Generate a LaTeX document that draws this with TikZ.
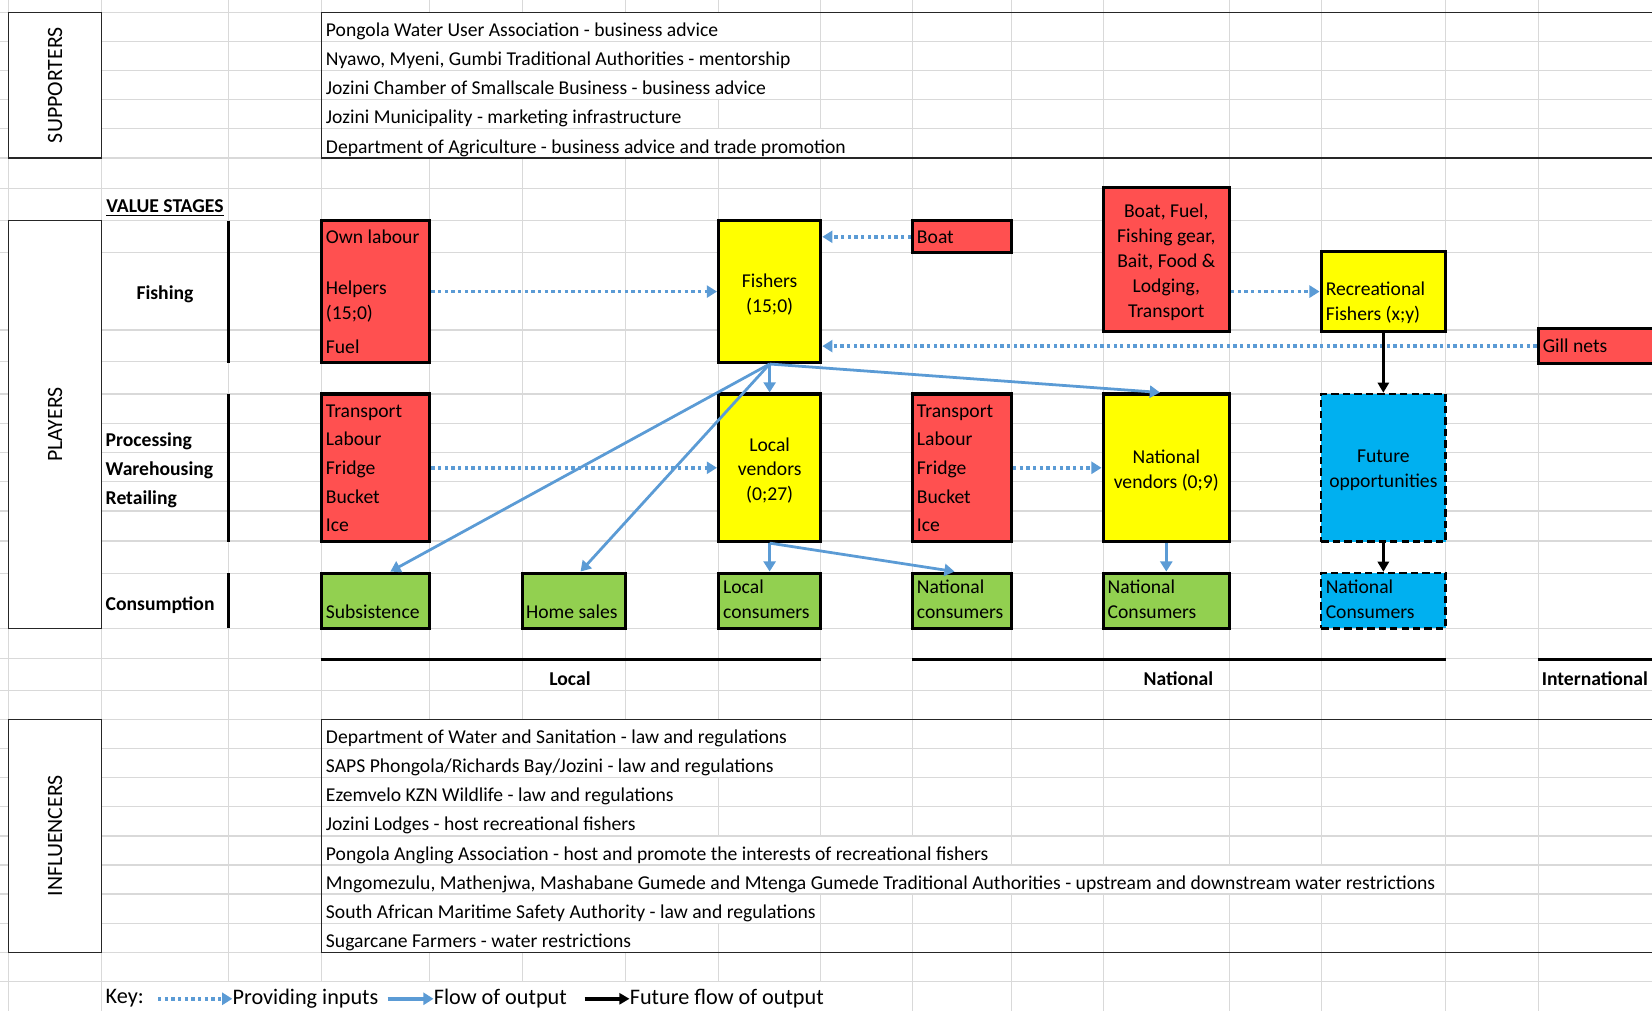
\documentclass[tikz,border=0pt]{standalone}
\usepackage{fontspec}
\setmainfont{Carlito}
\usetikzlibrary{positioning,fit,arrows.meta}

\definecolor{inputred}{HTML}{FF5050}
\definecolor{actoryellow}{HTML}{FFFF00}
\definecolor{consgreen}{HTML}{92D050}
\definecolor{futureblue}{HTML}{00B0F0}
\definecolor{flowblue}{HTML}{5B9BD5}
\definecolor{cellgray}{HTML}{D9D9D9}

\newcommand{\cellfont}{\fontsize{10.6}{13.4}\selectfont}

\tikzset{
  gridline/.style={cellgray, line width=0.6pt},
  rowtext/.style={anchor=west, fill=white, inner xsep=2.3pt, inner ysep=0pt,
    minimum height=0.54cm, text height=10.6pt, text depth=0.2pt},
  celltext/.style={anchor=west, inner sep=0pt, align=left},
  listtext/.style={celltext, font=\fontsize{10.6}{15.5}\selectfont},
  boxtext/.style={align=center, yshift=-0.05cm},
  headbox/.style={draw=black!85, line width=0.7pt, inner sep=0pt},
  headtext/.style={rotate=90, inner sep=0pt, font=\fontsize{11.8}{14}\selectfont},
  stagelabel/.style={anchor=west, inner sep=0pt, font=\cellfont\bfseries},
  stagebox/.style={draw, line width=1.7pt, inner sep=0pt},
  futurebox/.style={draw, line width=1.4pt, dash pattern=on 4pt off 2.2pt,
    fill=futureblue, inner sep=0pt},
  stagebar/.style={line width=1.8pt},
  inarrow/.style={flowblue, line width=1.9pt, dash pattern=on 1.8pt off 1.8pt,
    -{Triangle[length=5.5pt,width=6.5pt]}},
  outarrow/.style={flowblue, line width=1.5pt, -{Triangle[length=5.5pt,width=6.5pt]}},
  futarrow/.style={line width=1.4pt, -{Triangle[length=5.5pt,width=6pt]}},
  keytext/.style={inner sep=0pt, font=\fontsize{12}{14}\selectfont},
}

\begin{document}
\begin{tikzpicture}[x=0.02cm, y=-0.02cm, font=\cellfont]
\useasboundingbox (0,0) rectangle (1568,960);
\clip (0,0) rectangle (1568,960);

% sheet grid, columns first
\foreach \gx in {7.9,96.5,217,305,408,496,594,682,779,866,960,1047,1167,1254,1372,1460}
  \draw[gridline] (\gx,0) -- (\gx,960);

% supporter and influencer rows (text hides the grid it runs over)
\foreach \txt [count=\i] in {Pongola Water User Association - business advice,
    {Nyawo, Myeni, Gumbi Traditional Authorities - mentorship},
    Jozini Chamber of Smallscale Business - business advice,
    Jozini Municipality - marketing infrastructure,
    Department of Agriculture - business advice and trade promotion}
  \node[rowtext] (supp-\i) at (305,{11.7+27.66*(\i-0.5)}) {\txt};
\foreach \txt [count=\i] in {Department of Water and Sanitation - law and regulations,
    SAPS Phongola/Richards Bay/Jozini - law and regulations,
    Ezemvelo KZN Wildlife - law and regulations,
    Jozini Lodges - host recreational fishers,
    Pongola Angling Association - host and promote the interests of recreational fishers,
    {Mngomezulu, Mathenjwa, Mashabane Gumede and Mtenga Gumede Traditional Authorities - upstream and downstream water restrictions},
    South African Maritime Safety Authority - law and regulations,
    Sugarcane Farmers - water restrictions}
  \node[rowtext] (infl-\i) at (305,{682.7+27.65*(\i-0.5)}) {\txt};
\fill[white] (97.5,932.4) rectangle (865.4,960);

% sheet grid, rows
\foreach \gy in {11.7,39.6,67,94.3,122,150,178.7,209.5,239.8,313.2,343.3,374,401.8,429.7,
    457.2,485,513.5,544,596.3,625,655,682.7,710.3,737.8,765.6,793.5,821,848.5,876.3,903.9,931.7}
  \draw[gridline] (0,\gy) -- (1568,\gy);

% side headings
\node[headbox, fill=white, fit={(7.9,11.7) (96.5,150)}] (supporters) {};
\node[headtext] (supporters-t) at (supporters) {SUPPORTERS};
\node[headbox, fill=white, fit={(7.9,209.5) (96.5,596.3)}] (players) {};
\node[headtext] (players-t) at (players) {PLAYERS};
\node[headbox, fill=white, fit={(7.9,682.7) (96.5,903.9)}] (influencers) {};
\node[headtext] (influencers-t) at (influencers) {INFLUENCERS};
\node[headbox, fit={(305,11.7) (1600,150)}] (supp-list) {};
\node[headbox, fit={(305,682.7) (1600,903.9)}] (infl-list) {};

% value stages
\node[stagelabel] (value-stages) at (100.6,197.8) {\underline{VALUE STAGES}};
\node[stagelabel, anchor=center] (fishing) at (156.6,279.5) {Fishing};
\node[stagelabel] (processing) at (100,418.5) {Processing};
\node[stagelabel] (warehousing) at (100,446) {Warehousing};
\node[stagelabel] (retailing) at (100,474) {Retailing};
\node[stagelabel] (consumption) at (100,574.5) {Consumption};
\draw[stagebar] (217,209.5) -- (217,344.2);
\draw[stagebar] (217,374) -- (217,514);
\draw[stagebar] (217,544) -- (217,596.3);

% markets
\draw[stagebar] (305,626) -- (779,626);
\draw[stagebar] (866,626) -- (1372,626);
\draw[stagebar] (1460,626) -- (1600,626);
\node[stagelabel, anchor=center] (local) at (541,644) {Local};
\node[stagelabel, anchor=center] (national) at (1118.5,644) {National};
\node[stagelabel] (international) at (1463,644) {International};

% fishing
\node[stagebox, fill=inputred, fit={(305,209.5) (408,344)}] (ownlab) {};
\node[celltext] (ownlab-a) at (309,225) {Own labour};
\node[celltext] (ownlab-b) at (309,286.5) {Helpers\\(15;0)};
\node[celltext] (ownlab-c) at (309,329) {Fuel};
\node[stagebox, fill=actoryellow, fit={(682,209.5) (779,344)}] (fishers) {};
\node[boxtext] (fishers-t) at (fishers) {Fishers\\(15;0)};
\node[stagebox, fill=inputred, fit={(866,209.5) (960,240)}] (boat) {};
\node[celltext] (boat-t) at (870,225) {Boat};
\node[stagebox, fill=inputred, fit={(1047,178) (1167,315)}] (boatfuel) {};
\node[boxtext] (boatfuel-t) at (boatfuel) {Boat, Fuel,\\Fishing gear,\\Bait, Food \&\\Lodging,\\Transport};
\node[stagebox, fill=actoryellow, fit={(1254,238.5) (1372,315)}] (recfish) {};
\node[celltext] (recfish-t) at (1258,287) {Recreational\\Fishers (x;y)};
\node[stagebox, fill=inputred, fit={(1460,312) (1600,345)}] (gillnets) {};
\node[celltext] (gillnets-t) at (1464,328.5) {Gill nets};

% processing, warehousing, retailing
\node[stagebox, fill=inputred, fit={(305,374) (408,514)}] (transloc) {};
\node[listtext] (transloc-t) at (309,444.5) {Transport\\Labour\\Fridge\\Bucket\\Ice};
\node[stagebox, fill=actoryellow, fit={(682,374) (779,514)}] (locvend) {};
\node[boxtext] (locvend-t) at (locvend) {Local\\vendors\\(0;27)};
\node[stagebox, fill=inputred, fit={(866,374) (960,514)}] (transnat) {};
\node[listtext] (transnat-t) at (870,444.5) {Transport\\Labour\\Fridge\\Bucket\\Ice};
\node[stagebox, fill=actoryellow, fit={(1047,374) (1167,514)}] (natvend) {};
\node[boxtext] (natvend-t) at (natvend) {National\\vendors (0;9)};
\node[futurebox, fit={(1254,374) (1372,514)}] (futopp) {};
\node[boxtext] (futopp-t) at (futopp) {Future\\opportunities};

% consumption
\node[stagebox, fill=consgreen, fit={(305,544) (408,596.3)}] (subsist) {};
\node[celltext] (subsist-t) at (309,581) {Subsistence};
\node[stagebox, fill=consgreen, fit={(496,544) (594,596.3)}] (homesale) {};
\node[celltext] (homesale-t) at (499,581) {Home sales};
\node[stagebox, fill=consgreen, fit={(682,544) (779,596.3)}] (loccons) {};
\node[celltext] (loccons-t) at (686,569) {Local\\consumers};
\node[stagebox, fill=consgreen, fit={(866,544) (960,596.3)}] (natcons) {};
\node[celltext] (natcons-t) at (870,569) {National\\consumers};
\node[stagebox, fill=consgreen, fit={(1047,544) (1167,596.3)}] (natcons2) {};
\node[celltext] (natcons2-t) at (1051,569) {National\\Consumers};
\node[futurebox, fit={(1254,544) (1372,596.3)}] (futcons) {};
\node[celltext] (futcons-t) at (1258,569) {National\\Consumers};

% inputs
\draw[inarrow] (ownlab) -- (fishers);
\draw[inarrow] (boat) -- (fishers.east |- boat);
\draw[inarrow] (boatfuel.east |- recfish) -- (recfish);
\draw[inarrow] (gillnets) -- (fishers.east |- gillnets);
\draw[inarrow] (transloc) -- (locvend);
\draw[inarrow] (transnat) -- (natvend);

% output
\draw[outarrow] (fishers.south) -- (locvend);
\draw[outarrow] (fishers.south) -- ([xshift=0.28cm]subsist.north);
\draw[outarrow] (fishers.south) -- ([xshift=0.12cm]homesale.north);
\draw[outarrow] (fishers.south) -- ([xshift=-0.12cm]natvend.north);
\draw[outarrow] (locvend.south) -- (loccons);
\draw[outarrow] (locvend.south) -- ([xshift=-0.14cm]natcons.north);
\draw[outarrow] (natvend) -- (natcons2);
\draw[futarrow] (recfish) -- (futopp);
\draw[futarrow] (futopp) -- (futcons);

% key
\node[keytext, anchor=west] (key) at (100,947) {Key:};
\coordinate (key-in) at (150,948);
\node[keytext, right=1.41cm of key-in] (key-in-t) {Providing inputs};
\draw[inarrow] (key-in) -- (key-in-t.west);
\coordinate (key-out) at (368,948);
\node[keytext, right=0.87cm of key-out] (key-out-t) {Flow of output};
\draw[outarrow, line width=2pt] (key-out) -- (key-out-t.west);
\coordinate (key-fut) at (555,948);
\node[keytext, right=0.85cm of key-fut] (key-fut-t) {Future flow of output};
\draw[futarrow, line width=2pt] (key-fut) -- (key-fut-t.west);
\end{tikzpicture}
\end{document}
